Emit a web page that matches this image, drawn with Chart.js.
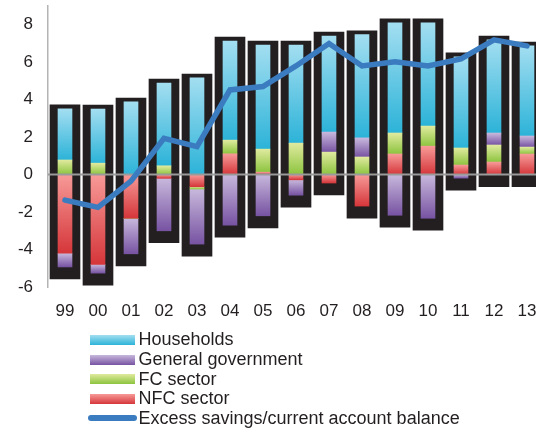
<!DOCTYPE html>
<html>
<head>
<meta charset="utf-8">
<script src="https://cdn.jsdelivr.net/npm/chart.js@4"></script>
<style>
  html, body { margin: 0; padding: 0; background: #fff; overflow: hidden; }
  #wrap { position: relative; width: 536px; height: 429px; }
  canvas { position: absolute; left: 0; top: 0; }
  .row { position: absolute; left: 0; height: 20px; display: flex; align-items: center;
         font-family: "Liberation Sans", Arial, sans-serif; font-size: 18px; color: #231f20; white-space: nowrap; }
  .sw { position: absolute; left: 90px; width: 45px; height: 10px; }
  .ln { position: absolute; left: 88px; width: 49px; height: 5.5px; border-radius: 3px; background: #3b7bbf; }
  .tx { position: absolute; left: 138.5px; }
</style>
</head>
<body>
<div id="wrap">
  <canvas id="c" width="536" height="429"></canvas>
  <div id="legend"></div>
</div>
<script>
// ---- data ----
const years = ['99','00','01','02','03','04','05','06','07','08','09','10','11','12','13'];
const households = [2.73, 2.89, 3.88, 4.42, 5.16, 5.29, 5.56, 5.24, 5.13, 5.51, 5.88, 5.51, 4.87, 4.97, 4.81];
const generalGov = [-0.73, -0.47, -1.90, -2.80, -2.94, -2.70, -2.20, -0.82, 1.07, 1.02, -2.17, -2.33, -0.19, 0.64, 0.59];
const fcSector   = [0.78, 0.61, 0.00, 0.47, -0.12, 0.73, 1.23, 1.68, 1.20, 0.94, 1.12, 1.07, 0.91, 0.91, 0.37];
const nfcSector  = [-4.20, -4.79, -2.33, -0.20, -0.65, 1.11, 0.13, -0.28, -0.45, -1.68, 1.10, 1.52, 0.51, 0.67, 1.10];
const excessSavings = [-1.36, -1.75, -0.35, 1.94, 1.49, 4.52, 4.70, 5.80, 7.00, 5.80, 6.02, 5.80, 6.18, 7.19, 6.87];
const yTicks = [-6, -4, -2, 0, 2, 4, 6, 8];

// ---- styling constants ----
const FONT = '"Liberation Sans", Arial, sans-serif';
const BOX_PAD_TOP = 0.21, BOX_PAD_BOTTOM = 0.64;
const stackOrder = [nfcSector, fcSector, generalGov, households];
const series = [
  { label: 'NFC sector', data: nfcSector, top: '#f79a98', bottom: '#d5363a' },
  { label: 'FC sector', data: fcSector, top: '#e0ea9e', bottom: '#8cc43f' },
  { label: 'General government', data: generalGov, top: '#c8b8dc', bottom: '#7753a2' },
  { label: 'Households', data: households, top: '#a3def1', bottom: '#2cb3d8' }
];

function gradFor(k, top, bottom) {
  return (c) => {
    const chart = c.chart;
    if (c.type !== 'data' || !chart.chartArea || !chart.scales.y) return bottom;
    const i = c.dataIndex;
    const v = stackOrder[k][i];
    let start = 0;
    for (let j = 0; j < k; j++) {
      const w = stackOrder[j][i];
      if (w !== 0 && (w > 0) === (v > 0)) start += w;
    }
    const end = start + v;
    const ys = chart.scales.y;
    const p1 = ys.getPixelForValue(Math.max(start, end));
    const p2 = ys.getPixelForValue(Math.min(start, end));
    if (p2 - p1 < 0.5) return bottom;
    const g = chart.ctx.createLinearGradient(0, p1, 0, p2);
    g.addColorStop(0, top);
    g.addColorStop(1, bottom);
    return g;
  };
}

const barDatasets = series.map((s, k) => ({
  type: 'bar',
  label: s.label,
  data: s.data.map((v, i) => ({ x: i, y: v })),
  backgroundColor: gradFor(k, s.top, s.bottom),
  borderWidth: 0,
  barThickness: 14,
  stack: 'main',
  order: 2
}));

const boxData = years.map((_, i) => {
  let pos = 0, neg = 0;
  stackOrder.forEach(a => { if (a[i] > 0) pos += a[i]; else neg += a[i]; });
  return { x: i, y: [Math.min(neg, 0) - BOX_PAD_BOTTOM, pos + BOX_PAD_TOP] };
});

const zeroLine = {
  id: 'zeroLine',
  beforeDatasetDraw(chart, args) {
    if (args.meta.type !== 'line') return;
    const { ctx, chartArea } = chart;
    const y0 = chart.scales.y.getPixelForValue(0);
    ctx.save();
    ctx.strokeStyle = '#9a9a9a';
    ctx.lineWidth = 2;
    ctx.beginPath();
    ctx.moveTo(chartArea.left, y0);
    ctx.lineTo(chartArea.right, y0);
    ctx.stroke();
    ctx.restore();
  }
};

new Chart(document.getElementById('c'), {
  data: {
    datasets: [
      ...barDatasets,
      {
        type: 'bar',
        label: 'box',
        data: boxData,
        backgroundColor: '#231f20',
        borderWidth: 0,
        barThickness: 30,
        grouped: false,
        stack: 'box',
        order: 3
      },
      {
        type: 'line',
        label: 'Excess savings/current account balance',
        data: excessSavings.map((v, i) => ({ x: i, y: v })),
        borderColor: '#3b7bbf',
        borderWidth: 5.5,
        pointRadius: 0,
        tension: 0,
        fill: false,
        borderCapStyle: 'round',
        borderJoinStyle: 'miter',
        order: 1
      }
    ]
  },
  options: {
    responsive: false,
    animation: false,
    events: [],
    layout: { padding: { top: 6, bottom: 102, left: 0, right: 0 } },
    plugins: { legend: { display: false }, tooltip: { enabled: false } },
    scales: {
      x: {
        type: 'linear',
        bounds: 'data',
        offset: false,
        min: -0.515,
        max: 14.273,
        grid: { display: false, offset: false },
        border: { display: false },
        afterBuildTicks: s => { s.ticks = years.map((_, i) => ({ value: i })); },
        afterFit: s => { s.height = 40; s.paddingLeft = 0; s.paddingRight = 0; },
        ticks: {
          autoSkip: false, maxRotation: 0, minRotation: 0, padding: 6,
          color: '#231f20', font: { family: FONT, size: 17 },
          callback: v => years[v]
        }
      },
      y: {
        stacked: true,
        bounds: 'data',
        min: -6,
        max: 9,
        grid: { display: false, drawTicks: false },
        border: { display: true, color: '#b4b4b4', width: 1.5 },
        afterBuildTicks: s => { s.ticks = yTicks.map(v => ({ value: v })); },
        afterFit: s => { s.width = 48; s.paddingTop = 0; s.paddingBottom = 0; },
        ticks: {
          padding: 15, color: '#231f20', font: { family: FONT, size: 17 },
          callback: v => String(v)
        }
      }
    }
  },
  plugins: [zeroLine]
});

// ---- HTML legend (Households first, as in reference) ----
const legend = document.getElementById('legend');
const legendItems = [...series].reverse();
const rowCenters = [339.7, 359.5, 379.2, 398.5, 418];
legendItems.forEach((s, r) => {
  const row = document.createElement('div');
  row.className = 'row';
  row.style.top = (rowCenters[r] - 10) + 'px';
  row.style.width = '536px';
  const sw = document.createElement('div');
  sw.className = 'sw';
  sw.style.top = '5px';
  sw.style.background = `linear-gradient(to bottom, ${s.top}, ${s.bottom})`;
  const tx = document.createElement('div');
  tx.className = 'tx';
  tx.textContent = s.label;
  row.appendChild(sw); row.appendChild(tx);
  legend.appendChild(row);
});
{
  const row = document.createElement('div');
  row.className = 'row';
  row.style.top = (rowCenters[4] - 10) + 'px';
  row.style.width = '536px';
  const ln = document.createElement('div');
  ln.className = 'ln';
  ln.style.top = '7.25px';
  const tx = document.createElement('div');
  tx.className = 'tx';
  tx.textContent = 'Excess savings/current account balance';
  row.appendChild(ln); row.appendChild(tx);
  legend.appendChild(row);
}
</script>
</body>
</html>
